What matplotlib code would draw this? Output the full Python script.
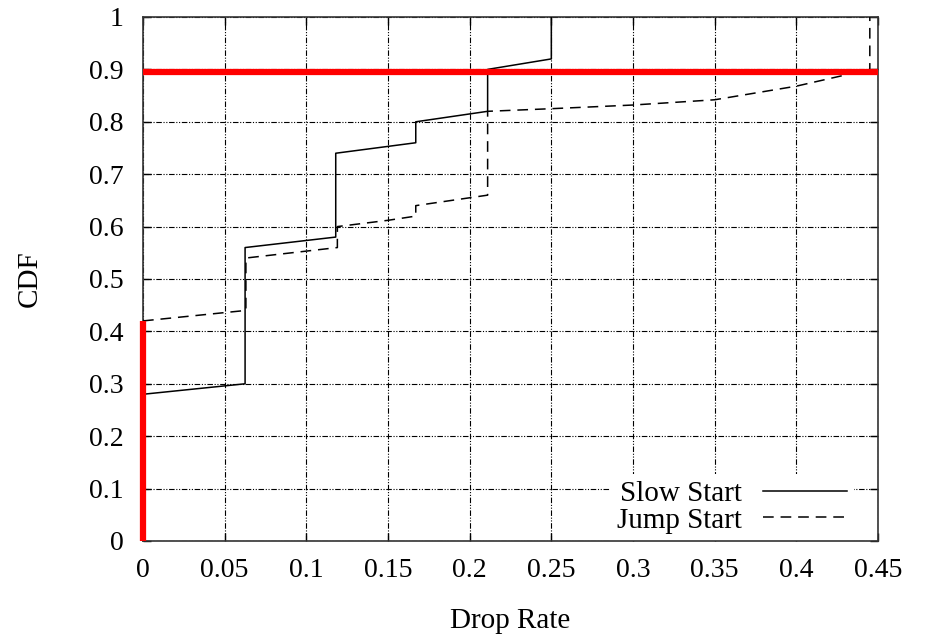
import matplotlib
matplotlib.use('Agg')
import matplotlib.pyplot as plt

plt.rcParams['font.family'] = ['Liberation Serif', 'DejaVu Serif']

# curvas CDF
slow_x = [0, 0.0625, 0.0625, 0.118, 0.118, 0.167, 0.167, 0.211, 0.211, 0.25, 0.25]
slow_y = [0.28, 0.30, 0.56, 0.58, 0.74, 0.76, 0.80, 0.82, 0.90, 0.92, 1.0]

jump_x = [0, 0.063, 0.063, 0.119, 0.119, 0.15, 0.167, 0.167, 0.211, 0.211,
          0.25, 0.30, 0.35, 0.40, 0.445, 0.445]
jump_y = [0.42, 0.44, 0.54, 0.56, 0.60, 0.612, 0.62, 0.64, 0.66, 0.82,
          0.825, 0.832, 0.842, 0.868, 0.90, 1.0]

# lineas rojas de referencia
red_h_x = [0, 0.45]
red_h_y = [0.895, 0.895]
red_v_x = [0, 0]
red_v_y = [0, 0.42]

xticks = [0, 0.05, 0.1, 0.15, 0.2, 0.25, 0.3, 0.35, 0.4, 0.45]
xtick_labels = ['0', '0.05', '0.1', '0.15', '0.2', '0.25', '0.3', '0.35', '0.4', '0.45']
yticks = [0, 0.1, 0.2, 0.3, 0.4, 0.5, 0.6, 0.7, 0.8, 0.9, 1]
ytick_labels = ['0', '0.1', '0.2', '0.3', '0.4', '0.5', '0.6', '0.7', '0.8', '0.9', '1']

fig = plt.figure(figsize=(9.28, 6.34), dpi=100)
ax = fig.add_axes([0.1541, 0.1467, 0.792, 0.8265])

ax.plot(slow_x, slow_y, color='black', lw=1.1, label='Slow Start', zorder=3)
ax.plot(jump_x, jump_y, color='black', lw=1.1, linestyle=(0, (7, 4.5)),
        label='Jump Start', zorder=3)

ax.plot(red_h_x, red_h_y, color='#ff0000', lw=4.5, solid_capstyle='butt',
        clip_on=False, zorder=4)
ax.plot(red_v_x, red_v_y, color='#ff0000', lw=4.5, solid_capstyle='butt',
        clip_on=False, zorder=4)

ax.set_xlim(0, 0.45)
ax.set_ylim(0, 1)
ax.set_xticks(xticks)
ax.set_xticklabels(xtick_labels)
ax.set_yticks(yticks)
ax.set_yticklabels(ytick_labels)
ax.tick_params(direction='in', length=6, width=1, labelsize=20,
               top=True, right=True)
ax.tick_params(axis='x', pad=12)
ax.tick_params(axis='y', pad=14)

ax.grid(True, color='black', lw=0.8, linestyle=(0, (5, 1.5, 1, 1.5, 1, 1.5)))
ax.set_axisbelow(True)
for s in ax.spines.values():
    s.set_linewidth(1.2)
    s.set_color('#333333')

ax.set_xlabel('Drop Rate', fontsize=21)
ax.set_ylabel('CDF', fontsize=21)
ax.xaxis.set_label_coords(0.5, -0.128)
ax.yaxis.set_label_coords(-0.137, 0.5)

leg = ax.legend(loc='lower right', bbox_to_anchor=(0.968, 0.0),
                markerfirst=False, fontsize=21, handlelength=2.9,
                frameon=True, fancybox=False, borderaxespad=0.0,
                borderpad=0.25, labelspacing=0.0, handletextpad=0.7)
leg.get_frame().set_edgecolor('none')
leg.get_frame().set_facecolor('white')
leg.get_frame().set_alpha(1)
leg.set_zorder(2.4)  # debajo de los bordes del eje
for t in leg.get_texts():
    t.set_ha('right')

fig.savefig('out.png', dpi=100)
